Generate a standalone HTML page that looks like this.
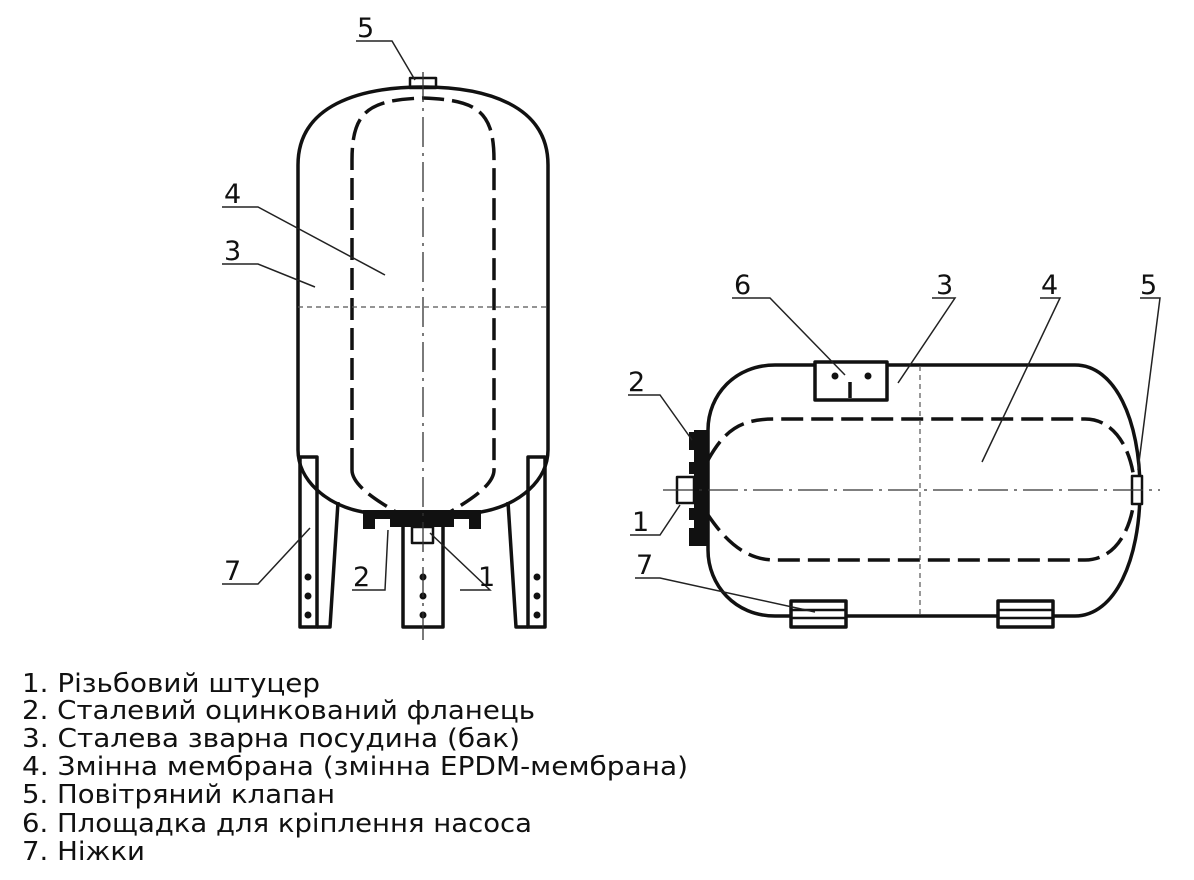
<!DOCTYPE html>
<html><head><meta charset="utf-8"><style>
html,body{margin:0;padding:0;background:#fff;}
svg{display:block}
text{font-family:"DejaVu Sans","Liberation Sans",sans-serif;fill:#111}
</style></head><body>
<svg width="1194" height="880" viewBox="0 0 1194 880" xmlns="http://www.w3.org/2000/svg">
<g fill="none" stroke="#111" stroke-width="3.5" stroke-linejoin="round">
  <path d="M298,450 L298,165 C298,105 360,87 423,87 C486,87 548,105 548,165 L548,450 C548,480 520,505 481,512 L363,512 C326,505 298,480 298,450 Z"/>
  <path d="M352,470 L352,160 C352,110 370,100 423,98 C476,100 494,110 494,160 L494,470 C494,485 470,500 450,512 M352,470 C352,485 376,500 396,512" stroke-dasharray="22,8"/>
  <path d="M300,457 L317,457 L317,627 L300,627 Z"/>
  <path d="M317,627 L330,627 L338,502"/>
  <path d="M545,457 L528,457 L528,627 L545,627 Z"/>
  <path d="M528,627 L516,627 L508,502"/>
  <path d="M403,527 L403,627 L443,627 L443,527"/>
  <rect x="412" y="527" width="21" height="16" stroke-width="2.5"/>
  <rect x="410" y="78" width="26" height="10" stroke-width="2.5"/>
  <path d="M775,365 L1075,365 C1115,365 1140,420 1140,490 C1140,560 1115,616 1075,616 L775,616 C735,616 708,585 708,550 L708,430 C708,395 735,365 775,365 Z"/>
  <path d="M708,460 C725,430 740,419 775,419 L1085,419 C1115,419 1133,450 1135,490 C1133,530 1115,560 1085,560 L775,560 C745,560 725,540 708,515" stroke-dasharray="22,8"/>
  <rect x="815" y="362" width="72" height="38" fill="#fff"/>
  <path d="M850,398 L850,382"/>
  <rect x="791" y="601" width="55" height="26" fill="#fff"/>
  <path d="M791,610 L846,610 M791,618 L846,618" stroke-width="2.5"/>
  <rect x="998" y="601" width="55" height="26" fill="#fff"/>
  <path d="M998,610 L1053,610 M998,618 L1053,618" stroke-width="2.5"/>
  <rect x="677" y="477" width="17" height="26" stroke-width="2.5"/>
  <rect x="1132" y="476" width="10" height="28" stroke-width="2.5" fill="#fff"/>
</g>
<rect x="363" y="510" width="118" height="9" fill="#111"/>
<rect x="363" y="515" width="12" height="14" fill="#111"/>
<rect x="469" y="515" width="12" height="14" fill="#111"/>
<rect x="390" y="515" width="64" height="12" fill="#111"/>
<rect x="694" y="430" width="14" height="116" fill="#111"/>
<rect x="689" y="432" width="8" height="18" fill="#111"/>
<rect x="689" y="462" width="8" height="12" fill="#111"/>
<rect x="689" y="508" width="8" height="12" fill="#111"/>
<rect x="689" y="528" width="8" height="18" fill="#111"/>
<g fill="#111">
  <circle cx="308" cy="577" r="3.5"/><circle cx="308" cy="596" r="3.5"/><circle cx="308" cy="615" r="3.5"/>
  <circle cx="537" cy="577" r="3.5"/><circle cx="537" cy="596" r="3.5"/><circle cx="537" cy="615" r="3.5"/>
  <circle cx="423" cy="577" r="3.5"/><circle cx="423" cy="596" r="3.5"/><circle cx="423" cy="615" r="3.5"/>
  <circle cx="835" cy="376" r="3.5"/><circle cx="868" cy="376" r="3.5"/>
</g>
<g fill="none" stroke="#333" stroke-width="1.3" stroke-dasharray="30,6,3,6">
  <path d="M423,72 L423,640"/>
  <path d="M663,490 L1160,490"/>
</g>
<g fill="none" stroke="#555" stroke-width="1.2" stroke-dasharray="5,4">
  <path d="M298,307 L548,307"/>
  <path d="M920,366 L920,615"/>
</g>
<g fill="none" stroke="#222" stroke-width="1.5">
  <path d="M356,41 L392,41 L415,80"/>
  <path d="M222,207 L258,207 L385,275"/>
  <path d="M222,264 L258,264 L315,287"/>
  <path d="M222,584 L258,584 L310,528"/>
  <path d="M352,590 L385,590 L388,530"/>
  <path d="M460,590 L490,590 L430,533"/>
  <path d="M732,298 L770,298 L845,375"/>
  <path d="M932,298 L955,298 L898,383"/>
  <path d="M1040,298 L1060,298 L982,462"/>
  <path d="M1140,298 L1160,298 L1138,470"/>
  <path d="M628,395 L660,395 L692,440"/>
  <path d="M630,535 L660,535 L680,505"/>
  <path d="M635,578 L660,578 L815,612"/>
</g>
<g font-size="27">
  <text x="357" y="37">5</text>
  <text x="224" y="203">4</text>
  <text x="224" y="260">3</text>
  <text x="224" y="580">7</text>
  <text x="353" y="586">2</text>
  <text x="478" y="586">1</text>
  <text x="734" y="294">6</text>
  <text x="936" y="294">3</text>
  <text x="1041" y="294">4</text>
  <text x="1140" y="294">5</text>
  <text x="628" y="391">2</text>
  <text x="632" y="531">1</text>
  <text x="636" y="574">7</text>
</g>
<g font-size="26">
  <text x="22" y="692" textLength="298" lengthAdjust="spacingAndGlyphs">1. Різьбовий штуцер</text>
  <text x="22" y="719" textLength="513" lengthAdjust="spacingAndGlyphs">2. Сталевий оцинкований фланець</text>
  <text x="22" y="747" textLength="498" lengthAdjust="spacingAndGlyphs">3. Сталева зварна посудина (бак)</text>
  <text x="22" y="775" textLength="666" lengthAdjust="spacingAndGlyphs">4. Змінна мембрана (змінна EPDM-мембрана)</text>
  <text x="22" y="803" textLength="313" lengthAdjust="spacingAndGlyphs">5. Повітряний клапан</text>
  <text x="22" y="832" textLength="510" lengthAdjust="spacingAndGlyphs">6. Площадка для кріплення насоса</text>
  <text x="22" y="860" textLength="123" lengthAdjust="spacingAndGlyphs">7. Ніжки</text>
</g>
</svg>
</body></html>
